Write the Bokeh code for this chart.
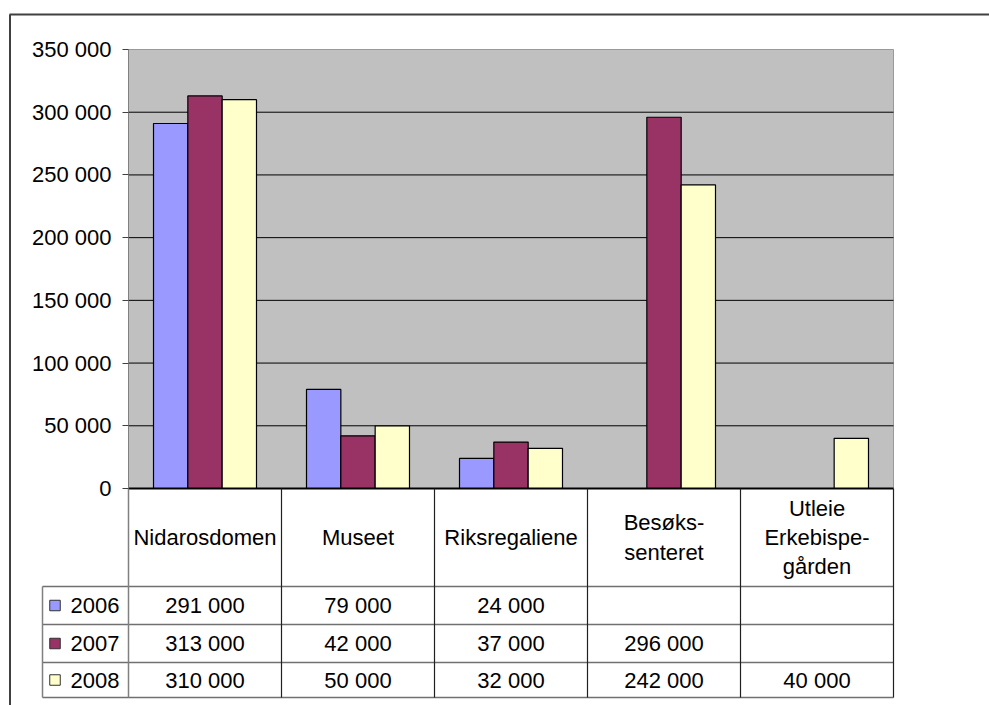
from bokeh.plotting import figure
from bokeh.models import Range1d, LinearAxis, FixedTicker
from bokeh.core.properties import value
from bokeh.embed import file_html
from bokeh.resources import INLINE

# ---------------- data ----------------
categories = ["Nidarosdomen", "Museet", "Riksregaliene", "Besøks-\nsenteret", "Utleie\nErkebispe-\ngården"]
years = ["2006", "2007", "2008"]
v2006 = [291000, 79000, 24000, None, None]
v2007 = [313000, 42000, 37000, 296000, None]
v2008 = [310000, 50000, 32000, 242000, 40000]
series = [v2006, v2007, v2008]
colors = ["#9999FF", "#993366", "#FFFFCC"]
y_ticks = [0, 50000, 100000, 150000, 200000, 250000, 300000, 350000]

def fmt(v):
    return "" if v is None else f"{v:,}".replace(",", " ")

# ---------------- layout constants (window pixels) ----------------
W, H = 989, 705
ORG = 0
PLOT_L, PLOT_R, PLOT_T, PLOT_B = 128, 893, 49, 488
NCAT = len(categories)
CAT_PX = (PLOT_R - PLOT_L) / NCAT
YMAX = y_ticks[-1]
PX = YMAX / (PLOT_B - PLOT_T)
FONT = value("Liberation Sans")
FSIZE = "22px"

def dx(wx):
    return (wx - PLOT_L) / CAT_PX

def dy(wy):
    return (PLOT_B - wy) * PX

p = figure(width=W, height=H, output_backend="svg", toolbar_location=None,
           x_range=Range1d(dx(ORG), dx(ORG + W)), y_range=Range1d(dy(ORG + H), dy(ORG)),
           x_axis_location=None, y_axis_location=None, min_border=0)
p.outline_line_color = None
p.background_fill_color = "white"
p.border_fill_color = "white"
p.xgrid.visible = False
p.ygrid.visible = False

# outer chart-area border (top and left visible)
p.segment(x0=[dx(9), dx(9.5)], y0=[dy(14), dy(14)], x1=[dx(ORG + W), dx(9.5)], y1=[dy(14), dy(ORG + H)],
          line_color="#404040", line_width=2)

# plot area
p.quad(left=[0], right=[NCAT], bottom=[0], top=[YMAX], fill_color="#C0C0C0", line_color="#999999", line_width=1)

# gridlines
gt = [t for t in y_ticks if t > 0 and t < YMAX]
p.segment(x0=[0] * len(gt), x1=[NCAT] * len(gt), y0=gt, y1=gt, line_color="#000000", line_width=1)

# bars
BAR_W = 34.33 / CAT_PX
group_left = 0.5 - 1.5 * BAR_W
for k, vals in enumerate(series):
    xs = [i + group_left + BAR_W * (k + 0.5) for i, v in enumerate(vals) if v is not None]
    tops = [v for v in vals if v is not None]
    p.vbar(x=xs, top=tops, bottom=0, width=BAR_W, fill_color=colors[k], line_color="#000000", line_width=1.2)

# zero line
p.segment(x0=[0], x1=[NCAT], y0=[0], y1=[0], line_color="#000000", line_width=2)

# y axis
yaxis = LinearAxis(fixed_location=0, ticker=FixedTicker(ticks=y_ticks),
                   major_label_overrides={t: fmt(t) for t in y_ticks})
yaxis.bounds = (0, YMAX)
yaxis.axis_line_color = "#808080"
yaxis.axis_line_width = 1
yaxis.major_tick_line_color = "#404040"
yaxis.major_tick_out = 6
yaxis.major_tick_in = 0
yaxis.minor_tick_line_color = None
yaxis.major_label_standoff = 11
yaxis.major_label_text_font = "Liberation Sans"
yaxis.major_label_text_font_size = FSIZE
yaxis.major_label_text_color = "#000000"
p.add_layout(yaxis, "left")

# ---------------- data table ----------------
HEAD_B = 586
ROW_B = [624, 662, 697]
LEG_L = 42
row_tops = [HEAD_B] + ROW_B[:-1]
row_centers = [(a + b) / 2 for a, b in zip(row_tops, ROW_B)]

# horizontal lines
hl = [HEAD_B] + ROW_B
p.segment(x0=[dx(LEG_L)] * len(hl), x1=[NCAT] * len(hl), y0=[dy(v) for v in hl], y1=[dy(v) for v in hl],
          line_color="#707070", line_width=1.5)
# vertical category dividers
p.segment(x0=list(range(1, NCAT + 1)), x1=list(range(1, NCAT + 1)), y0=[0] * NCAT, y1=[dy(ROW_B[-1])] * NCAT,
          line_color="#202020", line_width=1.2)
# left of data columns and legend column
p.segment(x0=[0, dx(LEG_L)], x1=[0, dx(LEG_L)], y0=[0, dy(HEAD_B)], y1=[dy(ROW_B[-1]), dy(ROW_B[-1])],
          line_color="#808080", line_width=1.5)

# header labels
p.text(x=[i + 0.5 for i in range(NCAT)], y=[dy((PLOT_B + HEAD_B) / 2)] * NCAT, text=categories,
       text_font=FONT, text_font_size=FSIZE, text_align="center", text_baseline="middle",
       text_line_height=1.17, text_color="#000000")

# values
for k, vals in enumerate(series):
    xs = [i + 0.5 for i, v in enumerate(vals) if v is not None]
    ts = [fmt(v) for v in vals if v is not None]
    p.text(x=xs, y=[dy(row_centers[k])] * len(xs), text=ts, text_font=FONT, text_font_size=FSIZE,
           text_align="center", text_baseline="middle", text_color="#000000")

# legend keys
p.scatter(x=[dx(54.5)] * 3, y=[dy(c) for c in row_centers], marker="square", size=10.5,
          fill_color=colors, line_color="#303030", line_width=1)
p.text(x=[dx(70)] * 3, y=[dy(c) for c in row_centers], text=years, text_font=FONT, text_font_size=FSIZE,
       text_align="left", text_baseline="middle", text_color="#000000")

open("out.html", "w").write(file_html(p, INLINE))
